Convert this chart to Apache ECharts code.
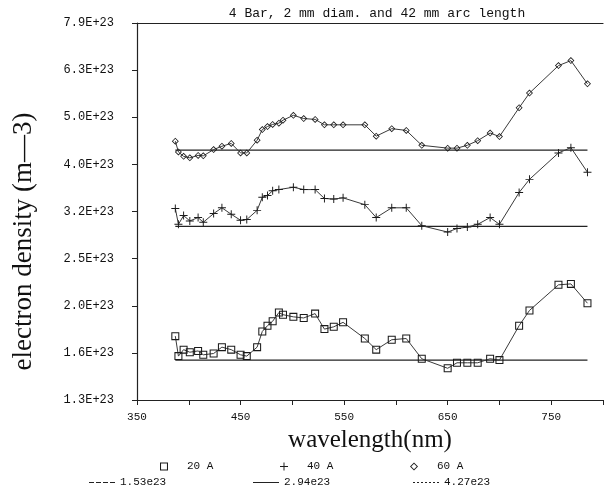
<!DOCTYPE html>
<html>
<head>
<meta charset="utf-8">
<script src="https://cdn.jsdelivr.net/npm/echarts@6/dist/echarts.min.js"></script>
<style>
  html, body { margin: 0; padding: 0; background: #fff; }
  #chart { width: 606px; height: 488px; }
</style>
</head>
<body>
<div id="chart"></div>
<script>
// wavelengths in nm, shared by the three current series
const wavelengths = [387, 390, 395, 401, 409, 414, 424, 432, 441, 450, 456, 466, 471, 476, 481, 487, 491, 501, 511, 522,
  531, 540, 549, 570, 581, 596, 610, 625, 650, 659, 669, 679, 691, 700, 719, 729, 757, 769, 785]

// electron density, units of 1e23 m-3
const density20A = [1.72, 1.56, 1.61, 1.59, 1.60, 1.57, 1.58, 1.63, 1.61, 1.57, 1.56, 1.63, 1.76, 1.81, 1.85, 1.93, 1.91, 1.89, 1.88, 1.92,
  1.78, 1.80, 1.84, 1.70, 1.61, 1.69, 1.70, 1.54, 1.47, 1.51, 1.51, 1.51, 1.54, 1.53, 1.81, 1.95, 2.21, 2.22, 2.02]
const density40A = [3.21, 2.97, 3.10, 3.02, 3.07, 3.00, 3.13, 3.22, 3.12, 3.03, 3.04, 3.18, 3.39, 3.42, 3.50, 3.52, null, 3.56, 3.52, 3.52,
  3.37, 3.36, 3.38, 3.27, 3.07, 3.22, 3.22, 2.95, 2.86, 2.91, 2.93, 2.97, 3.07, 2.97, 3.47, 3.70, 4.21, 4.32, 3.83]
const density60A = [4.46, 4.23, 4.14, 4.11, 4.16, 4.15, 4.28, 4.35, 4.41, 4.21, 4.21, 4.48, 4.72, 4.79, 4.84, 4.87, 4.94, 5.06, 4.98, 4.96,
  4.83, 4.83, 4.83, 4.83, 4.57, 4.74, 4.70, 4.37, 4.31, 4.31, 4.37, 4.47, 4.64, 4.56, 5.25, 5.64, 6.45, 6.61, 5.90]

const seriesNames = ['20 A', '40 A', '60 A']

// mean density lines
const meanValues = [1.53, 2.94, 4.27]
const meanNames = ['1.53e23', '2.94e23', '4.27e23']
const meanRange = [387, 785]

const titleText = '4 Bar, 2 mm diam. and 42 mm arc length'

// symbols drawn as paths
const squareIcon = 'path://M0,0H10V10H0Z M1.3,1.3V8.7H8.7V1.3Z'
const plusIcon = 'path://M4.4,0H5.6V4.4H10V5.6H5.6V10H4.4V5.6H0V4.4H4.4Z'
const diamondIcon = 'path://M5,0L10,5L5,10L0,5Z M5,1.6L1.6,5L5,8.4L8.4,5Z'
const markerIcons = [squareIcon, plusIcon, diamondIcon]
const markerSizes = [8, 8, 7]
const lineIcons = [
  'path://M0,0H5V1H0Z M7,0H12V1H7Z M14,0H19V1H14Z M21,0H26V1H21Z',
  'path://M0,0H26V1H0Z',
  'path://M0,0H2V1H0Z M4,0H6V1H4Z M8,0H10V1H8Z M12,0H14V1H12Z M16,0H18V1H16Z M20,0H22V1H20Z M24,0H26V1H24Z'
]

// y axis works in tenths of a decade (log scale)
const toAxis = v => v == null ? null : 10 * (23 + Math.log10(v))

const mono = 'Liberation Mono'
const serif = 'Liberation Serif'

const chart = echarts.init(document.getElementById('chart'), null, { renderer: 'canvas' })

const densities = [density20A, density40A, density60A]

const series = densities.map((arr, i) => ({
  name: seriesNames[i],
  type: 'line',
  data: wavelengths.map((w, j) => [w, toAxis(arr[j])]),
  connectNulls: true,
  symbol: markerIcons[i],
  symbolSize: markerSizes[i],
  showAllSymbol: true,
  itemStyle: { color: '#1a1a1a' },
  lineStyle: { color: '#3a3a3a', width: 1 },
  z: 3
}))

meanValues.forEach((v, i) => {
  series.push({
    name: meanNames[i],
    type: 'line',
    data: meanRange.map(w => [w, toAxis(v)]),
    symbol: 'none',
    lineStyle: { color: '#222', width: 1.2 },
    z: 2
  })
})

const legendLeft1 = [155, 275, 405]
const legendLeft2 = [84, 248, 408]
const legends = []
seriesNames.forEach((n, i) => {
  legends.push({
    data: [{ name: n, icon: markerIcons[i] }],
    left: legendLeft1[i], top: 456,
    itemWidth: 36, itemHeight: 8,
    textStyle: { fontFamily: mono, fontSize: 11, color: '#111' },
    selectedMode: false
  })
})
meanNames.forEach((n, i) => {
  legends.push({
    data: [{ name: n, icon: lineIcons[i] }],
    left: legendLeft2[i], top: 472,
    itemWidth: 26, itemHeight: 8,
    itemStyle: { color: '#222' },
    textStyle: { fontFamily: mono, fontSize: 11, color: '#111' },
    selectedMode: false
  })
})

const option = {
  animation: false,
  backgroundColor: '#fff',
  title: {
    text: titleText,
    left: 372,
    textAlign: 'center',
    top: 2,
    textStyle: { fontFamily: mono, fontSize: 13, fontWeight: 'normal', color: '#111' }
  },
  legend: legends,
  grid: { left: 137, top: 23, width: 472, height: 377 },
  xAxis: [
    {
      type: 'value',
      min: 350, max: 800, interval: 50,
      name: 'wavelength(nm)',
      nameLocation: 'middle',
      nameGap: 28,
      nameTextStyle: { fontFamily: serif, fontSize: 25, color: '#111' },
      axisLine: { lineStyle: { color: '#222', width: 1.2 } },
      axisTick: { length: 5, lineStyle: { color: '#222' } },
      axisLabel: {
        margin: 12,
        fontFamily: mono, fontSize: 11, color: '#111',
        formatter: v => ((v - 350) % 100 === 0 ? String(v) : '')
      },
      splitLine: { show: false }
    },
    {
      type: 'value',
      position: 'top',
      min: 350, max: 800,
      axisLine: { show: true, lineStyle: { color: '#222', width: 1.2 } },
      axisTick: { show: false },
      axisLabel: { show: false },
      splitLine: { show: false }
    }
  ],
  yAxis: {
    type: 'value',
    min: 231, max: 239, interval: 1,
    name: 'electron density (m\u20143)',
    nameLocation: 'middle',
    nameGap: 100,
    nameRotate: 90,
    nameTextStyle: { fontFamily: serif, fontSize: 27, color: '#111', padding: [0, 60, 0, 0] },
    axisLine: { show: true, lineStyle: { color: '#222', width: 1.2 } },
    axisTick: { show: true, length: 5, lineStyle: { color: '#222' } },
    axisLabel: {
      margin: 23,
      fontFamily: mono, fontSize: 12, color: '#111',
      formatter: v => Math.pow(10, v / 10).toExponential(1).toUpperCase()
    },
    splitLine: { show: false }
  },
  series: series
}

chart.setOption(option)
</script>
</body>
</html>
